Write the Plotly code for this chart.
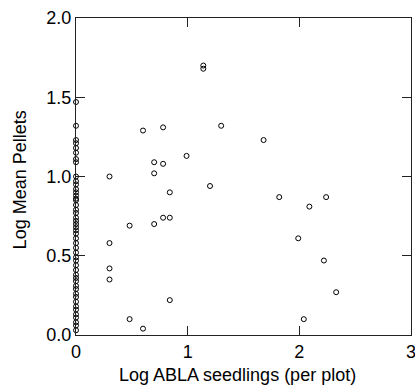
import plotly.graph_objects as go

# Points with ABLA seedlings > 0 (log scale values)
x_nonzero = [1.14, 1.14, 0.60, 0.78, 1.30, 0.99, 0.70, 0.78, 0.70, 0.30, 1.20, 0.84,
             1.68, 1.82, 2.24, 2.09, 1.99, 2.22, 2.33, 2.04,
             0.78, 0.84, 0.70, 0.48, 0.30, 0.30, 0.30, 0.84, 0.48, 0.60]
y_nonzero = [1.70, 1.68, 1.29, 1.31, 1.32, 1.13, 1.09, 1.08, 1.02, 1.00, 0.94, 0.90,
             1.23, 0.87, 0.87, 0.81, 0.61, 0.47, 0.27, 0.10,
             0.74, 0.74, 0.70, 0.69, 0.58, 0.42, 0.35, 0.22, 0.10, 0.04]

# Points with zero ABLA seedlings (x = 0)
y_zero = [1.47, 1.32, 1.23, 1.21, 1.18, 1.15, 1.11, 1.09, 1.00, 0.97, 0.95, 0.92,
          0.90, 0.88, 0.86, 0.85, 0.82, 0.79, 0.77, 0.74, 0.72, 0.70, 0.68, 0.66,
          0.64, 0.61, 0.58, 0.55, 0.52, 0.49, 0.47, 0.44, 0.41, 0.38, 0.36, 0.34,
          0.31, 0.29, 0.26, 0.24, 0.21, 0.18, 0.16, 0.13, 0.11, 0.08, 0.06, 0.03]
x_zero = [0.0] * len(y_zero)

x_all = x_zero + x_nonzero
y_all = y_zero + y_nonzero

x_ticks = [0, 1, 2, 3]
x_tick_labels = ["0", "1", "2", "3"]
y_ticks = [0.0, 0.5, 1.0, 1.5, 2.0]
y_tick_labels = ["0.0", "0.5", "1.0", "1.5", "2.0"]
x_title = "Log ABLA seedlings (per plot)"
y_title = "Log Mean Pellets"

font_family = "Liberation Sans, Arial, sans-serif"

fig = go.Figure()
fig.add_trace(go.Scatter(
    x=x_all, y=y_all, mode="markers",
    marker=dict(symbol="circle-open", size=5, color="black", line=dict(width=1, color="black")),
    cliponaxis=False, showlegend=False, hoverinfo="skip",
))

axis_common = dict(
    showgrid=False, zeroline=False, showline=True, linecolor="#222222", linewidth=1,
    ticks="inside", ticklen=9, tickwidth=1, tickcolor="#222222", mirror="ticks",
    tickfont=dict(family=font_family, size=18, color="black"),
    ticklabeloverflow="allow", automargin=False,
)

fig.update_layout(
    width=415, height=388,
    margin=dict(l=76, r=4, t=18, b=53),
    paper_bgcolor="white", plot_bgcolor="white",
    font=dict(family=font_family, size=18, color="black"),
    xaxis=dict(range=[0, 3], tickvals=x_ticks, ticktext=x_tick_labels, **axis_common),
    yaxis=dict(range=[0, 2], tickvals=y_ticks, ticktext=y_tick_labels, **axis_common),
    annotations=[
        dict(text=x_title, xref="paper", yref="paper", x=0.4815, y=-0.126,
             xanchor="center", yanchor="middle", showarrow=False,
             font=dict(family=font_family, size=18, color="black")),
        dict(text=y_title, xref="paper", yref="paper", x=-0.166, y=0.489,
             xanchor="center", yanchor="middle", textangle=-90, showarrow=False,
             font=dict(family=font_family, size=18, color="black")),
    ],
)

# Remove the default 8px page margin so the figure fills the window exactly
fig.write_html("out.html",
               config={"displayModeBar": False},
               post_script="document.body.style.margin='0';document.body.style.overflow='hidden';")
